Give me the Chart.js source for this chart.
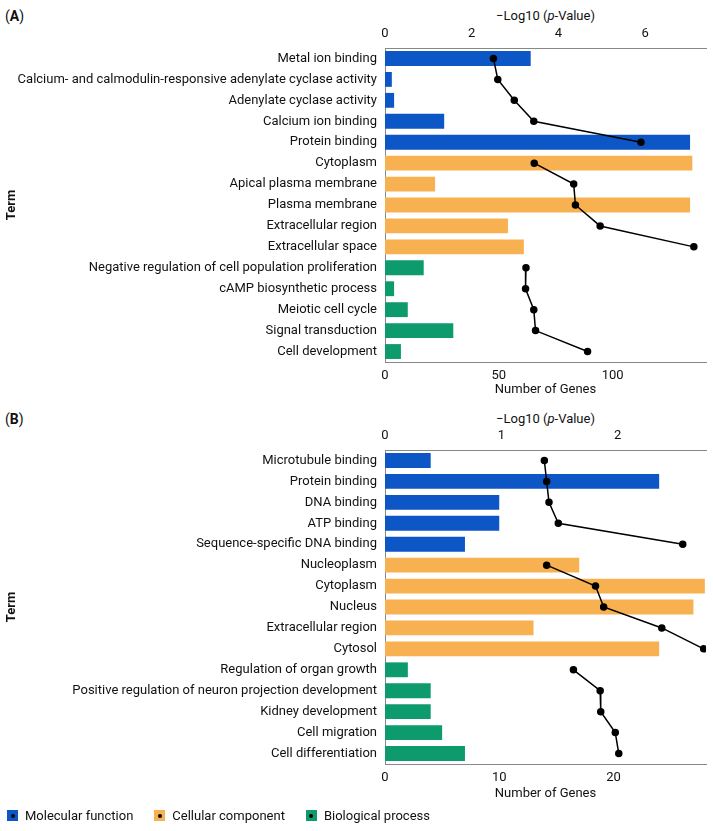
<!DOCTYPE html>
<html>
<head>
<meta charset="utf-8">
<script src="https://cdn.jsdelivr.net/npm/chart.js@4.4.1/dist/chart.umd.min.js"></script>
<style>
  body { margin: 0; background: #fff; font-family: Roboto, "Noto Sans", sans-serif; color: #111; }
  #wrap { position: relative; width: 713px; height: 831px; }
  .panel { position: absolute; left: 0; width: 713px; }
  .tag { position: absolute; left: 5px; font-size: 14px; }
  .ptitle { position: absolute; left: 385px; width: 321px; text-align: center; font-size: 13px; }
  #legend { position: absolute; left: 7px; top: 808px; font-size: 13px; display: flex; }
  .item { display: flex; align-items: center; margin-right: 21px; }
  .sw { width: 11px; height: 11px; position: relative; margin-right: 7px; }
  .sw::after { content: ""; position: absolute; left: 3.5px; top: 3.5px; width: 4px; height: 4px; border-radius: 50%; background: #000; }
</style>
</head>
<body>
<div id="wrap">
  <div class="tag" style="top:8px">(<b>A</b>)</div>
  <div class="ptitle" style="top:8px">&minus;Log10 (<i>p</i>-Value)</div>
  <div class="panel" style="top:0;height:400px"><canvas id="chartA"></canvas></div>

  <div class="tag" style="top:411px">(<b>B</b>)</div>
  <div class="ptitle" style="top:411px">&minus;Log10 (<i>p</i>-Value)</div>
  <div class="panel" style="top:400px;height:410px"><canvas id="chartB"></canvas></div>

  <div id="legend">
    <div class="item"><span class="sw" style="background:#0d56c6"></span>Molecular function</div>
    <div class="item"><span class="sw" style="background:#f8b150"></span>Cellular component</div>
    <div class="item"><span class="sw" style="background:#0d9a6c"></span>Biological process</div>
  </div>
</div>

<script>
// Cores das categorias
const colorMF = "#0d56c6";
const colorCC = "#f8b150";
const colorBP = "#0d9a6c";

// Painel A
const termsA = [
  "Metal ion binding",
  "Calcium- and calmodulin-responsive adenylate cyclase activity",
  "Adenylate cyclase activity",
  "Calcium ion binding",
  "Protein binding",
  "Cytoplasm",
  "Apical plasma membrane",
  "Plasma membrane",
  "Extracellular region",
  "Extracellular space",
  "Negative regulation of cell population proliferation",
  "cAMP biosynthetic process",
  "Meiotic cell cycle",
  "Signal transduction",
  "Cell development",
];
const genesA = [64, 3, 4, 26, 134, 135, 22, 134, 54, 61, 17, 4, 10, 30, 7];
const logPA = [2.5, 2.6, 2.98, 3.43, 5.9, 3.44, 4.35, 4.39, 4.96, 7.12, 3.25, 3.24, 3.43, 3.47, 4.67];
const groupsA = [5, 5, 5]; // MF, CC, BP

// Painel B
const termsB = [
  "Microtubule binding",
  "Protein binding",
  "DNA binding",
  "ATP binding",
  "Sequence-specific DNA binding",
  "Nucleoplasm",
  "Cytoplasm",
  "Nucleus",
  "Extracellular region",
  "Cytosol",
  "Regulation of organ growth",
  "Positive regulation of neuron projection development",
  "Kidney development",
  "Cell migration",
  "Cell differentiation",
];
const genesB = [4, 24, 10, 10, 7, 17, 28, 27, 13, 24, 2, 4, 4, 5, 7];
const logPB = [1.37, 1.39, 1.41, 1.49, 2.56, 1.39, 1.81, 1.88, 2.38, 2.74, 1.62, 1.85, 1.855, 1.98, 2.01];
const groupsB = [5, 5, 5];

// Eixos
const genesTicksA = { max: 141, step: 50 };
const logTicksA = { max: 7.4, step: 2 };
const genesTicksB = { max: 28.1, step: 10 };
const logTicksB = { max: 2.76, step: 1 };

const font = { family: "Roboto, 'Noto Sans', sans-serif", size: 13 };

function barColors(groups) {
  const cols = [colorMF, colorCC, colorBP];
  const out = [];
  groups.forEach((n, g) => { for (let i = 0; i < n; i++) out.push(cols[g]); });
  return out;
}

// Uma linha por categoria (quebra entre grupos)
function lineSets(values, groups) {
  const sets = [];
  let start = 0;
  groups.forEach((n) => {
    const data = values.map((v, i) => (i >= start && i < start + n ? v : null));
    sets.push({
      type: "line",
      indexAxis: "y",
      xAxisID: "x2",
      data: data,
      borderColor: "#000",
      backgroundColor: "#000",
      borderWidth: 1.5,
      pointRadius: 3,
      pointHoverRadius: 3,
      spanGaps: false,
      tension: 0,
    });
    start += n;
  });
  return sets;
}

function makeChart(id, terms, genes, logP, groups, gTicks, lTicks, topH, botH, titlePad) {
  const ctx = document.getElementById(id).getContext("2d");
  return new Chart(ctx, {
    data: {
      labels: terms,
      datasets: [
        {
          type: "bar",
          data: genes,
          xAxisID: "x",
          backgroundColor: barColors(groups),
          categoryPercentage: 1,
          barPercentage: 0.71,
          order: 2,
        },
        ...lineSets(logP, groups),
      ],
    },
    options: {
      indexAxis: "y",
      responsive: true,
      maintainAspectRatio: false,
      animation: false,
      layout: { padding: { left: 0, right: 7, top: 0, bottom: 0 } },
      plugins: { legend: { display: false }, tooltip: { enabled: false } },
      scales: {
        y: {
          type: "category",
          offset: true,
          grid: { display: false, drawTicks: false },
          border: { display: true, color: "#888", width: 1 },
          ticks: { color: "#111", font: font, padding: 8 },
          title: { display: true, text: "Term", color: "#111", font: { ...font, weight: "bold" }, padding: { top: 4 } },
          afterFit: (s) => { s.width = 385; },
        },
        x: {
          type: "linear",
          position: "bottom",
          min: 0,
          max: gTicks.max,
          grid: { display: false, drawTicks: false },
          border: { display: true, color: "#888", width: 1 },
          ticks: { stepSize: gTicks.step, includeBounds: false, color: "#111", font: font, padding: 6 },
          title: { display: true, text: "Number of Genes", color: "#111", font: font, padding: { top: 0, bottom: titlePad } },
          afterFit: (s) => { s.height = botH; },
        },
        x2: {
          type: "linear",
          position: "top",
          min: 0,
          max: lTicks.max,
          grid: { display: false, drawTicks: false },
          border: { display: true, color: "#888", width: 1 },
          ticks: { stepSize: lTicks.step, includeBounds: false, color: "#111", font: font, padding: 6 },
          afterFit: (s) => { s.height = topH; },
        },
      },
    },
  });
}

makeChart("chartA", termsA, genesA, logPA, groupsA, genesTicksA, logTicksA, 48, 38, 2);
makeChart("chartB", termsB, genesB, logPB, groupsB, genesTicksB, logTicksB, 50, 46, 8);
</script>
</body>
</html>
